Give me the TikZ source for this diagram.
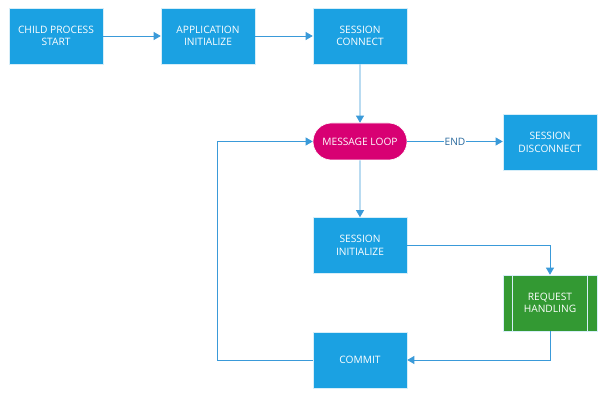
\documentclass[tikz,border=0pt]{standalone}
\usepackage{fontspec}
\setmainfont{Open Sans}
\usetikzlibrary{arrows.meta,positioning,shapes.misc}
\definecolor{boxblue}{HTML}{1BA1E2}
\definecolor{loopmag}{HTML}{D80073}
\definecolor{procgreen}{HTML}{339933}
\definecolor{linecol}{HTML}{3A9AD9}
\definecolor{endcol}{HTML}{2A6A9E}
\definecolor{edgecol}{HTML}{D6EEF9}
\tikzset{
  txt/.style={font=\fontsize{10.2}{12.5}\selectfont},
  stepbox/.style={rectangle, fill=boxblue, draw=edgecol, line width=0.6pt, minimum width=94pt, minimum height=56pt, text=white, align=center, txt, inner sep=0pt},
  loopbox/.style={rounded rectangle, fill=loopmag, draw=white, line width=0.6pt, minimum width=94pt, minimum height=37pt, text=white, align=center, txt, inner sep=0pt},
  procbox/.style={rectangle, fill=procgreen, draw=edgecol, line width=0.6pt, minimum width=94pt, minimum height=56pt, text=white, align=center, txt, inner sep=0pt},
  conn/.style={draw=linecol, line width=0.7pt, -{Triangle[length=7pt,width=8pt]}},
}
\begin{document}
\begin{tikzpicture}[x=1pt,y=-1pt]
\useasboundingbox (0,0) rectangle (611,409);
\fill[white] (0,0) rectangle (611,409);
\node[stepbox] (start) at (56,36) {CHILD PROCESS\\START};
\node[stepbox] (appinit) at (208,36) {APPLICATION\\INITIALIZE};
\node[stepbox] (connect) at (360,36) {SESSION\\CONNECT};
\node[loopbox] (loop) at (360,141.5) {MESSAGE LOOP};
\node[stepbox] (disc) at (550,142.5) {SESSION\\DISCONNECT};
\node[stepbox] (sinit) at (360,245.5) {SESSION\\INITIALIZE};
\node[procbox] (req) at (550,303) {REQUEST\\HANDLING};
\draw[edgecol, line width=0.6pt] ([xshift=10pt]req.north west) -- ([xshift=10pt]req.south west);
\draw[edgecol, line width=0.6pt] ([xshift=-10pt]req.north east) -- ([xshift=-10pt]req.south east);
\node[stepbox] (commit) at (360,360) {COMMIT};
\coordinate (lc) at (217,360);
\draw[conn] (start) -- (appinit);
\draw[conn] (appinit) -- (connect);
\draw[conn] (connect) -- (loop);
\draw[conn] (loop.east) -- node[fill=white, inner sep=1pt, text=endcol, txt, pos=0.5] (endlbl) {END} (loop.east -| disc.west);
\draw[conn] (loop) -- (sinit);
\draw[conn] (sinit.east) -| (req.north);
\draw[conn] (req.south) |- (commit.east);
\draw[conn] (commit.west) -- (lc) |- (loop.west);
\end{tikzpicture}
\end{document}
